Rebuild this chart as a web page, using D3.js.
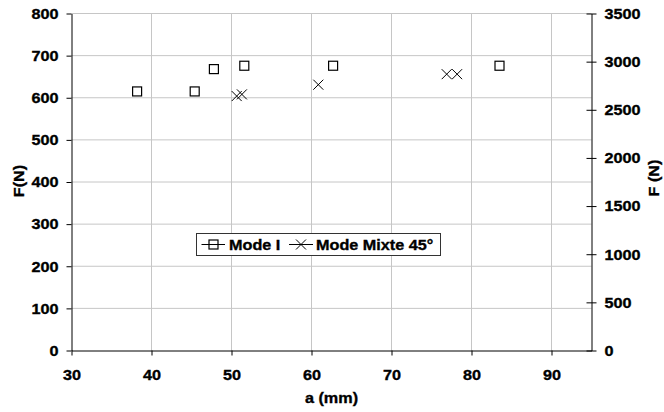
<!DOCTYPE html>
<html><head><meta charset="utf-8">
<script src="https://cdn.jsdelivr.net/npm/d3@7"></script>
<style>
body{margin:0;background:#fff;}
text{font-family:Arial,"Liberation Sans",sans-serif;font-weight:bold;fill:#000;stroke:#000;stroke-width:0.35px;}
</style></head>
<body><svg id="c" width="664" height="412"></svg>
<script>
const modeI_a = [38.2, 45.4, 47.8, 51.6, 62.7, 83.5];
const modeI_F = [615, 615, 668, 676, 676, 676];
const mixte_a = [50.65, 51.3, 60.85, 76.9, 78.2];
const mixte_F = [604, 608, 631, 656, 656];
const xTicks = [30, 40, 50, 60, 70, 80, 90];
const yTicks = [0, 100, 200, 300, 400, 500, 600, 700, 800];
const y2Ticks = [0, 500, 1000, 1500, 2000, 2500, 3000, 3500];
const seriesNames = ["Mode I", "Mode Mixte 45°"];

const svg = d3.select("#c");
const L = 71.5, R = 591.5, T = 13.5, B = 350.5;
const x = d3.scaleLinear().domain([30, 95]).range([L, R]);
const y = d3.scaleLinear().domain([0, 800]).range([B, T]);
const y2 = d3.scaleLinear().domain([0, 3500]).range([B, T]);
const FS = 15, SX = 1.08;
const grid = "#c6c6c6";

// gridlines
svg.append("g").selectAll("line").data(yTicks.filter(d => d > 0)).join("line")
  .attr("x1", L).attr("x2", R).attr("y1", d => y(d)).attr("y2", d => y(d))
  .attr("stroke", grid).attr("stroke-width", 1);
svg.append("g").selectAll("line").data(xTicks.filter(d => d > 30)).join("line")
  .attr("x1", d => x(d)).attr("x2", d => x(d)).attr("y1", T).attr("y2", B)
  .attr("stroke", grid).attr("stroke-width", 1);

function styleAxis(g) {
  g.attr("font-family", null).attr("font-size", null);
  g.select(".domain").attr("stroke", "#000");
  g.selectAll(".tick line").attr("stroke", "#000");
  g.selectAll(".tick text").attr("font-size", FS).attr("fill", "#000");
}
const fmt = d3.format("d");
// left axis
const gl = svg.append("g").attr("transform", `translate(${L},0)`)
  .call(d3.axisLeft(y).tickValues(yTicks).tickFormat(fmt).tickSize(5).tickSizeOuter(0));
styleAxis(gl);
gl.selectAll(".tick text").attr("transform", `scale(${SX},1)`).attr("x", -13/SX);
// bottom axis
const gb = svg.append("g").attr("transform", `translate(0,${B})`)
  .call(d3.axisBottom(x).tickValues(xTicks).tickFormat(fmt).tickSize(5).tickSizeOuter(0).tickPadding(14));
styleAxis(gb);
gb.selectAll(".tick text").attr("transform", `scale(${SX},1)`);
// right axis
const gr = svg.append("g").attr("transform", `translate(${R},0)`)
  .call(d3.axisRight(y2).tickValues(y2Ticks).tickFormat(fmt).tickSize(5).tickSizeOuter(0));
styleAxis(gr);
gr.selectAll(".tick line").attr("x1", -5);
gr.selectAll(".tick text").attr("transform", `scale(${SX},1)`).attr("x", 13/SX);

// axis titles
function label(txt, tx, ty, rot) {
  svg.append("text").attr("text-anchor", "middle").attr("font-size", FS)
    .attr("transform", `translate(${tx},${ty}) rotate(${rot}) scale(${SX},1)`).text(txt);
}
label("F(N)", 24, 181, -90);
label("F (N)", 659, 178, -90);
label("a (mm)", 331.5, 403, 0);

// markers
const sq = 9;
svg.append("g").selectAll("rect").data(modeI_a.map((a, i) => [a, modeI_F[i]])).join("rect")
  .attr("x", d => x(d[0]) - sq/2).attr("y", d => y(d[1]) - sq/2)
  .attr("width", sq).attr("height", sq)
  .attr("fill", "none").attr("stroke", "#000").attr("stroke-width", 1.2);
const cs = 5;
svg.append("g").selectAll("path").data(mixte_a.map((a, i) => [a, mixte_F[i]])).join("path")
  .attr("d", d => { const cx = x(d[0]), cy = y(d[1]);
    return `M${cx-cs},${cy-cs}L${cx+cs},${cy+cs}M${cx-cs},${cy+cs}L${cx+cs},${cy-cs}`; })
  .attr("fill", "none").attr("stroke", "#000").attr("stroke-width", 1);

// legend
const lg = svg.append("g");
lg.append("rect").attr("x", 196.5).attr("y", 233.5).attr("width", 244).attr("height", 22)
  .attr("fill", "#fff").attr("stroke", "#333").attr("stroke-width", 1);
const ly = 244.5;
lg.append("line").attr("x1", 201.5).attr("x2", 225).attr("y1", ly).attr("y2", ly).attr("stroke", "#000");
lg.append("rect").attr("x", 213.5 - 4.5).attr("y", ly - 4.5).attr("width", 9).attr("height", 9)
  .attr("fill", "none").attr("stroke", "#000").attr("stroke-width", 1.2);
lg.append("text").attr("font-size", FS).attr("transform", `translate(229,${ly+5.5}) scale(${SX},1)`).text(seriesNames[0]);
lg.append("line").attr("x1", 289).attr("x2", 313).attr("y1", ly).attr("y2", ly).attr("stroke", "#000");
lg.append("path").attr("d", `M${301-cs},${ly-cs}L${301+cs},${ly+cs}M${301-cs},${ly+cs}L${301+cs},${ly-cs}`)
  .attr("stroke", "#000").attr("fill", "none");
lg.append("text").attr("font-size", FS).attr("transform", `translate(316,${ly+5.5}) scale(${SX},1)`).text(seriesNames[1]);
</script></body></html>
